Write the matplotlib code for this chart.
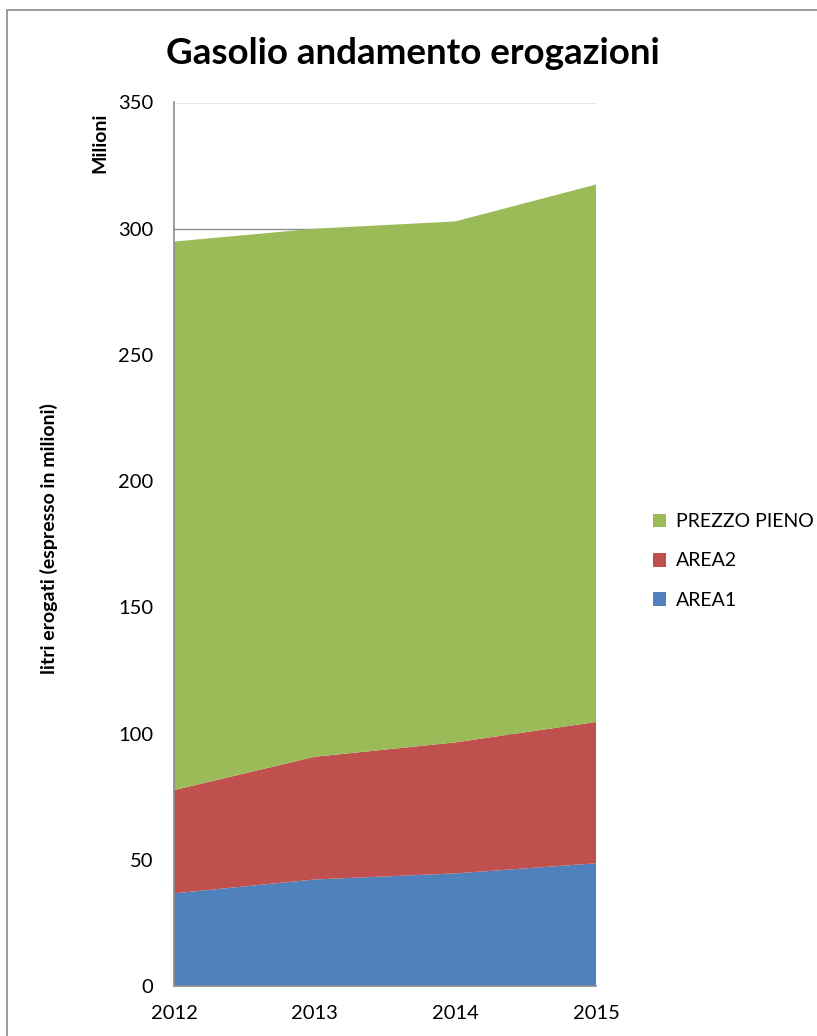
import matplotlib
matplotlib.use("Agg")
import matplotlib.pyplot as plt
from matplotlib.patches import Rectangle, Patch

plt.rcParams["font.family"] = ["Lato", "DejaVu Sans"]

# litri erogati per anno, in milioni
YEARS = ["2012", "2013", "2014", "2015"]
AREA1 = [36.7, 42.2, 44.6, 48.6]
AREA2 = [40.9, 48.6, 51.9, 56.0]
PREZZO_PIENO = [217.3, 209.2, 206.4, 212.9]

SERIES = ["AREA1", "AREA2", "PREZZO PIENO"]
COLORS = ["#4F81BD", "#C0504D", "#9BBB59"]
Y_TICKS = list(range(0, 351, 50))

fig = plt.figure(figsize=(8.17, 10.36), dpi=100)
ax = fig.add_axes([174 / 817, 1 - 986 / 1036, (596 - 174) / 817, (986 - 102.5) / 1036])

# chart frame
fig.patches.append(Rectangle((7 / 817, -0.1), 2, 1 - 10 / 1036 + 0.1,
                             transform=fig.transFigure, fill=False,
                             edgecolor="#8c8c8c", linewidth=1.2))

x = range(len(YEARS))
ax.stackplot(x, AREA1, AREA2, PREZZO_PIENO, colors=COLORS, labels=SERIES,
             edgecolor="none", zorder=2)

ax.set_xlim(0, len(YEARS) - 1)
ax.set_ylim(0, 350)
ax.set_yticks(Y_TICKS)
ax.set_xticks(list(x))
ax.set_xticklabels(YEARS)
ax.tick_params(axis="both", length=0, labelsize=14.5, colors="black")
ax.tick_params(axis="y", pad=15)
ax.tick_params(axis="x", pad=14)
ax.grid(axis="y", color="#8c8c8c", linewidth=1.0, zorder=0)
ax.set_axisbelow(True)
for side in ["top", "right"]:
    ax.spines[side].set_visible(False)
for side in ["left", "bottom"]:
    ax.spines[side].set_color("#8c8c8c")
    ax.spines[side].set_linewidth(1.2)

fig.text(413 / 817, 1 - 54 / 1036, "Gasolio andamento erogazioni",
         ha="center", va="center", fontsize=26.5, fontweight="bold")
fig.text(49 / 817, 1 - 539 / 1036, "litri erogati (espresso in milioni)",
         ha="center", va="center", rotation=90, fontsize=14, fontweight="bold")
fig.text(100 / 817, 1 - 143 / 1036, "Milioni",
         ha="center", va="center", rotation=90, fontsize=14, fontweight="bold")

handles = [Patch(facecolor=c) for c in COLORS[::-1]]
fig.legend(handles, SERIES[::-1], loc="center left",
           bbox_to_anchor=(635 / 817, 1 - 561 / 1036), frameon=False,
           fontsize=14, handlelength=0.7, handleheight=0.7,
           handletextpad=0.5, labelspacing=1.15)

fig.savefig("out.png", dpi=100)
